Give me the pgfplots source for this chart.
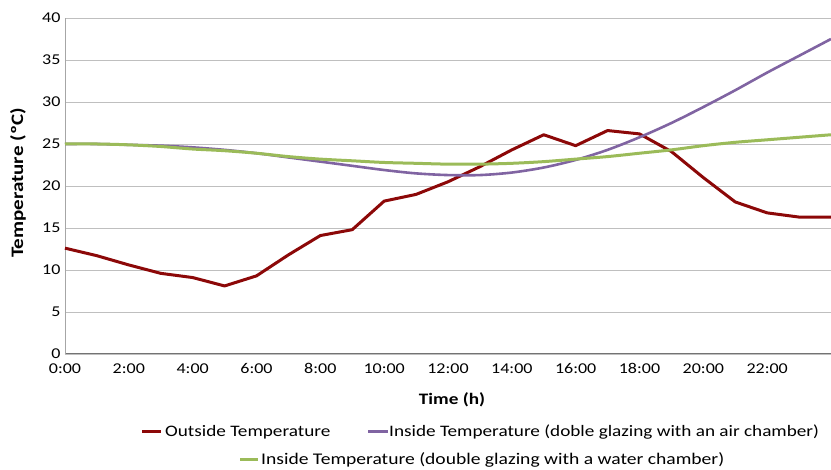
\documentclass[border=0pt]{standalone}
\usepackage{pgfplots}
\pgfplotsset{compat=1.18}
\usepackage{fontspec}
\setmainfont{Carlito}[FakeStretch=1.2]
\definecolor{outred}{RGB}{140,8,8}
\definecolor{airpurple}{RGB}{128,100,162}
\definecolor{watergreen}{RGB}{155,187,89}
\begin{document}
\begin{tikzpicture}[x=1pt,y=1pt]
\useasboundingbox (0,0) rectangle (831,470);
\begin{axis}[
  at={(65pt,116pt)}, anchor=south west,
  width=766pt, height=336pt, scale only axis,
  xmin=0, xmax=24, ymin=0, ymax=40,
  xtick={0,2,...,22},
  xticklabels={0:00,2:00,4:00,6:00,8:00,10:00,12:00,14:00,16:00,18:00,20:00,22:00},
  ytick={0,5,...,40},
  axis x line*=bottom, axis y line*=left,
  x axis line style={draw=black!55, line width=1pt, -},
  y axis line style={draw=black!35, line width=0.8pt, -},
  major tick length=0pt,
  ymajorgrids, grid style={draw=black!25, line width=0.8pt},
  tick label style={font=\fontsize{15}{18}\selectfont},
  /pgf/number format/assume math mode=true,
  xticklabel style={yshift=-6pt},
  yticklabel style={xshift=-1pt},
  clip=false,
]
\addplot[outred, line width=3pt, line join=round] coordinates {
(0,12.6) (1,11.7) (2,10.6) (3,9.6) (4,9.1) (5,8.1) (6,9.3) (7,11.8) (8,14.1)
(9,14.8) (10,18.2) (11,19.0) (12,20.5) (13,22.3) (14,24.3) (15,26.1) (16,24.8)
(17,26.6) (18,26.2) (19,24.1) (20,21.0) (21,18.1) (22,16.8) (23,16.3) (24,16.3)};
\addplot[airpurple, line width=2.6pt, smooth] coordinates {
(0,25.0) (1,25.0) (2,24.9) (3,24.8) (4,24.6) (5,24.3) (6,23.9) (7,23.4) (8,22.9)
(9,22.4) (10,21.9) (11,21.5) (12,21.3) (13,21.3) (14,21.6) (15,22.2) (16,23.1)
(17,24.3) (18,25.8) (19,27.5) (20,29.4) (21,31.4) (22,33.5) (23,35.5) (24,37.5)};
\addplot[watergreen, line width=3pt, smooth] coordinates {
(0,25.0) (1,25.0) (2,24.9) (3,24.7) (4,24.4) (5,24.2) (6,23.9) (7,23.5) (8,23.2)
(9,23.0) (10,22.8) (11,22.7) (12,22.6) (13,22.6) (14,22.7) (15,22.9) (16,23.2)
(17,23.5) (18,23.9) (19,24.3) (20,24.8) (21,25.2) (22,25.5) (23,25.8) (24,26.1)};
\end{axis}
\node[font=\fontsize{16}{18}\selectfont\bfseries] at (452,70) {Time (h)};
\node[rotate=90, font=\fontsize{17.5}{20}\selectfont\bfseries] at (18,287) {Temperature (ºC)};
\draw[outred, line width=3pt] (142,38) -- (161,38);
\node[anchor=west, inner sep=0pt, font=\fontsize{16}{18}\selectfont] at (165,38) {Outside Temperature};
\draw[airpurple, line width=3pt] (368,38) -- (388,38);
\node[anchor=west, inner sep=0pt, font=\fontsize{16}{18}\selectfont] at (389,38) {Inside Temperature (doble glazing with an air chamber)};
\draw[watergreen, line width=3pt] (240,10) -- (258,10);
\node[anchor=west, inner sep=0pt, font=\fontsize{16.3}{18}\selectfont] at (261,10) {Inside Temperature (double glazing with a water chamber)};
\end{tikzpicture}
\end{document}
